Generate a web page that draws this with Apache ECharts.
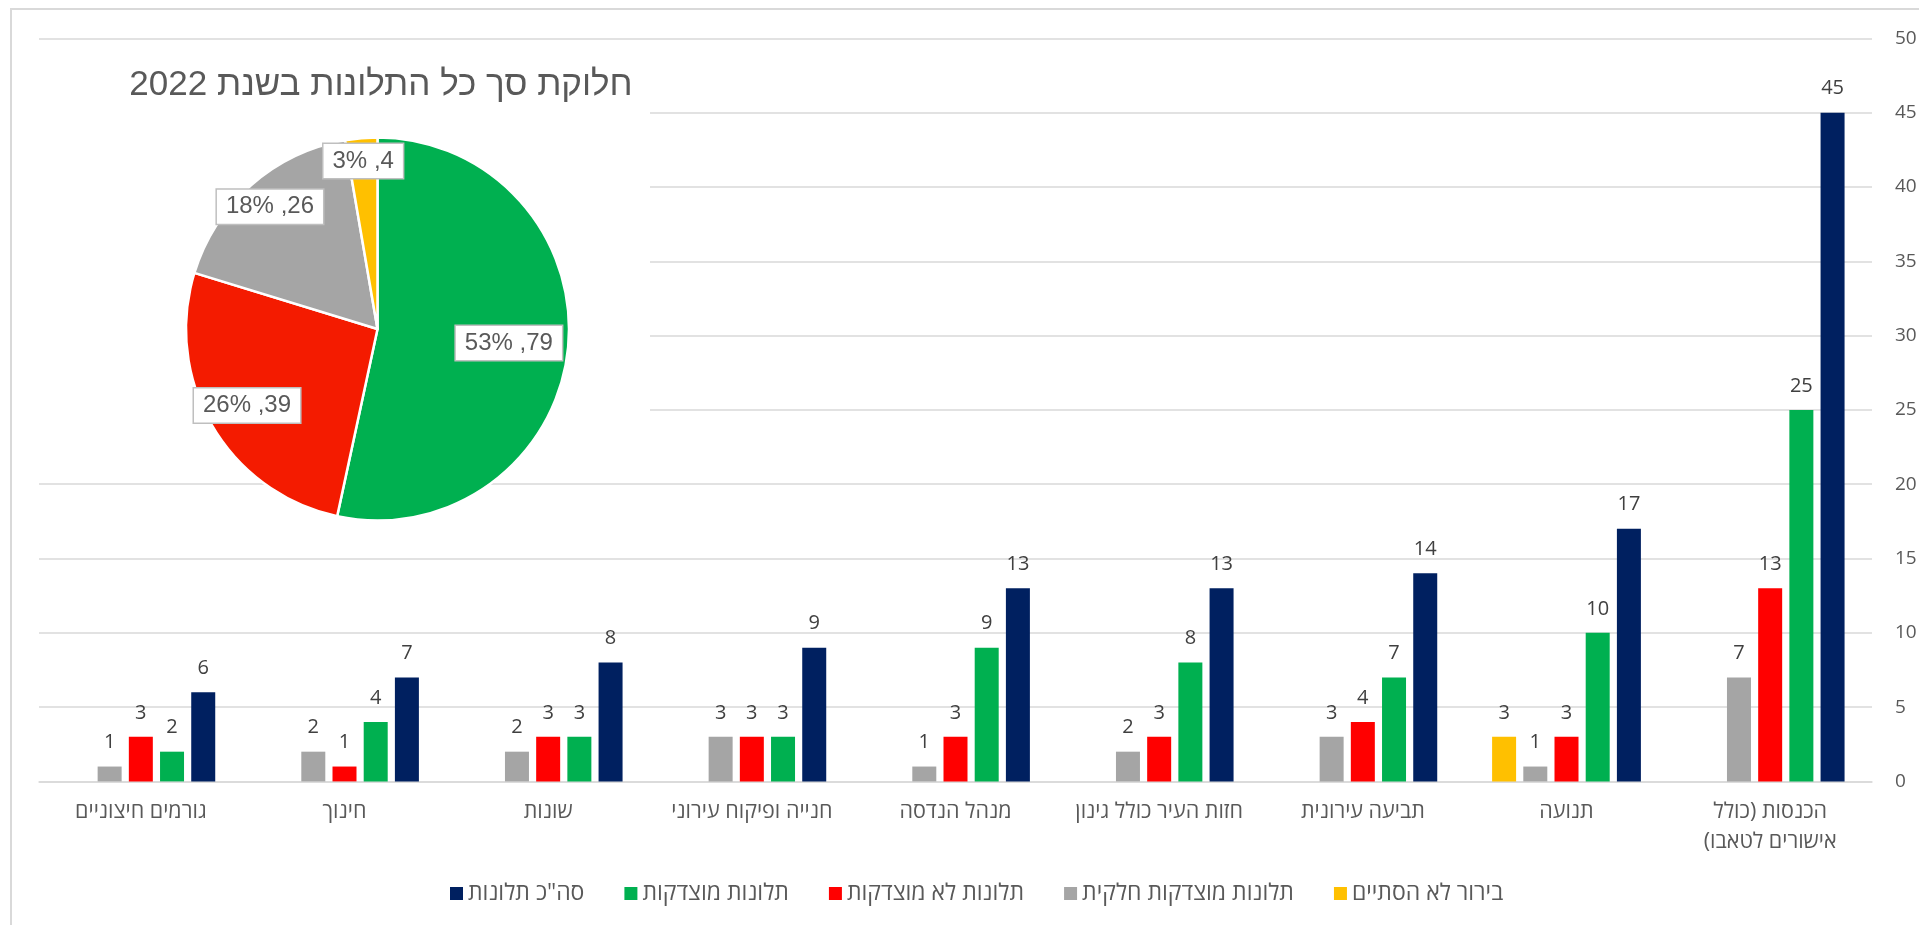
<!DOCTYPE html>
<html><head><meta charset="utf-8">
<script src="https://cdn.jsdelivr.net/npm/echarts@6/dist/echarts.min.js"></script>
<style>
html,body{margin:0;padding:0;background:#fff;}
#c{width:1919px;height:925px;}
#c canvas{direction:rtl;}
</style>
</head><body><div id="c"></div>
<script>
// ---- data ----
const categories = ['הכנסות (כולל\nאישורים לטאבו)', 'תנועה', 'תביעה עירונית', 'חזות העיר כולל גינון', 'מנהל הנדסה', 'חנייה ופיקוח עירוני', 'שונות', 'חינוך', 'גורמים חיצוניים'];
const seriesNames = ['בירור לא הסתיים', 'תלונות מוצדקות חלקית', 'תלונות לא מוצדקות', 'תלונות מוצדקות', 'סה"כ תלונות'];
const unresolved  = [0, 3, 0, 0, 0, 0, 0, 0, 0];
const partial     = [7, 1, 3, 2, 1, 3, 2, 2, 1];
const unjustified = [13, 3, 4, 3, 3, 3, 3, 1, 3];
const justified   = [25, 10, 7, 8, 9, 3, 3, 4, 2];
const totals      = [45, 17, 14, 13, 13, 9, 8, 7, 6];
const yMin = 0, yMax = 50, yStep = 5;
const pieTitle = 'חלוקת סך כל התלונות בשנת 2022';
const pieNames  = ['תלונות מוצדקות', 'תלונות לא מוצדקות', 'תלונות מוצדקות חלקית', 'בירור לא הסתיים'];
const pieValues = [79, 39, 26, 4];

// ---- styles ----
const barColors = ['#FFC000', '#A5A5A5', '#FF0000', '#00B050', '#002060'];
const pieColors = ['#00B050', '#F41B00', '#A5A5A5', '#FFC000'];
const PIE_CENTER = [377.5, 329];
const PIE_R = 191.5;
const PIE_LABEL_FRAC = [0.69, 0.79, 0.85, 0.88];
const GRID = {left: 39, right: 47, top: 38.4, bottom: 143.6};

const chart = echarts.init(document.getElementById('c'), null, {renderer: 'canvas'});
const barValues = [unresolved, partial, unjustified, justified, totals];

const barSeries = barValues.map((vals, i) => ({
  name: seriesNames[i],
  type: 'bar',
  data: vals,
  barWidth: 24,
  barGap: '30%',
  itemStyle: {color: barColors[i]},
  label: {
    show: true, position: 'top', distance: 14,
    color: '#404040', fontSize: 20, fontFamily: 'Open Sans',
    formatter: p => (p.value ? String(p.value) : '')
  },
  emphasis: {disabled: true},
  z: 2
}));

const pieSeries = {
  type: 'pie',
  center: PIE_CENTER,
  radius: PIE_R,
  startAngle: 90,
  clockwise: true,
  percentPrecision: 0,
  z: 5,
  emphasis: {disabled: true},
  data: pieValues.map((v, i) => ({name: pieNames[i], value: v, itemStyle: {color: pieColors[i]}})),
  itemStyle: {borderColor: '#ffffff', borderWidth: 2.5},
  label: {
    show: true, position: 'inside',
    formatter: p => p.value + ', ' + p.percent + '%',
    fontFamily: 'Liberation Sans', fontSize: 24, color: '#595959',
    backgroundColor: '#ffffff', borderColor: '#BFBFBF', borderWidth: 1.5,
    padding: [6, 9, 4, 9]
  },
  labelLine: {show: false},
  labelLayout: function (params) {
    const r = params.labelRect;
    const cx = r.x + r.width / 2, cy = r.y + r.height / 2;
    const vx = cx - PIE_CENTER[0], vy = cy - PIE_CENTER[1];
    const len = Math.sqrt(vx * vx + vy * vy) || 1;
    const d = PIE_LABEL_FRAC[params.dataIndex] * PIE_R;
    return {dx: vx / len * d - vx, dy: vy / len * d - vy};
  }
};

chart.setOption({
  animation: false,
  backgroundColor: '#ffffff',
  title: {
    text: pieTitle, left: 376, top: 63, textAlign: 'center',
    textStyle: {fontFamily: 'Liberation Sans', fontSize: 35, fontWeight: 'normal', color: '#595959'},
    z: 8
  },
  legend: {
    data: seriesNames.slice().reverse(),
    left: 445, top: 877,
    itemWidth: 13, itemHeight: 13, itemGap: 40,
    icon: 'rect',
    textStyle: {fontFamily: 'Open Sans', fontSize: 23, color: '#595959'},
    selectedMode: false
  },
  grid: Object.assign({containLabel: false, outerBoundsMode: 'none'}, GRID),
  xAxis: {
    type: 'category', data: categories, inverse: true,
    axisTick: {show: false},
    axisLine: {lineStyle: {color: '#D9D9D9', width: 1.5}},
    axisLabel: {
      interval: 0, margin: 15, color: '#595959', fontSize: 21.5, lineHeight: 30,
      fontFamily: 'Open Sans'
    }
  },
  yAxis: {
    type: 'value', position: 'right', min: yMin, max: yMax, interval: yStep,
    axisLine: {show: false}, axisTick: {show: false},
    splitLine: {lineStyle: {color: '#D9D9D9', width: 1.5}},
    axisLabel: {margin: 23, color: '#595959', fontSize: 19, fontFamily: 'Open Sans'}
  },
  graphic: [
    {type: 'rect', z: -1, silent: true,
     shape: {x: 11, y: 9, width: 1930, height: 940},
     style: {fill: null, stroke: '#D9D9D9', lineWidth: 2}},
    {type: 'rect', z: 1, silent: true,
     shape: {x: 13, y: 45, width: 637, height: 400},
     style: {fill: '#ffffff'}}
  ],
  series: barSeries.concat([pieSeries])
});
</script>
</body></html>
